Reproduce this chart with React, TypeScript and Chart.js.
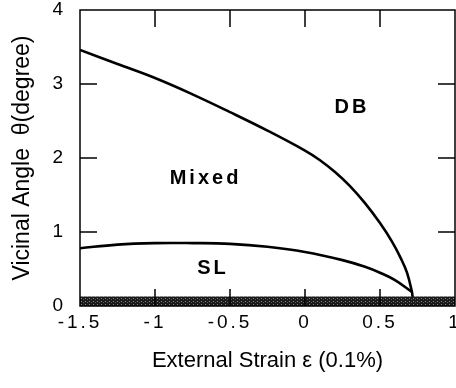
import React, { useEffect, useRef } from 'react';
import { Chart, registerables } from 'chart.js';

Chart.register(...registerables);

// ---- Data ----
const xTickValues = [-1.5, -1, -0.5, 0, 0.5, 1];
const xTickLabels = ['-1.5', '-1', '-0.5', '0', '0.5', '1'];
const yTickValues = [0, 1, 2, 3, 4];
const yTickLabels = ['0', '1', '2', '3', '4'];
const innerTickX = [-1, -0.5, 0, 0.5];
const innerTickY = [1, 2, 3];

// DB / Mixed boundary
const upperX = [-1.5, -1.25, -1.0, -0.75, -0.5, -0.25, 0, 0.1, 0.2, 0.3, 0.4, 0.5, 0.58, 0.64, 0.68, 0.713, 0.717];
const upperY = [3.46, 3.27, 3.08, 2.86, 2.62, 2.37, 2.1, 1.97, 1.81, 1.62, 1.39, 1.12, 0.87, 0.64, 0.45, 0.19, 0.12];

// Mixed / SL boundary
const lowerX = [-1.5, -1.25, -1.0, -0.75, -0.5, -0.25, 0, 0.25, 0.4, 0.5, 0.6, 0.713];
const lowerY = [0.78, 0.83, 0.85, 0.85, 0.84, 0.8, 0.73, 0.62, 0.53, 0.45, 0.35, 0.19];

// Hatched band along the bottom
const bandX = [-1.5, 1];
const bandY = [0.13, 0.13];

// Region labels
const regionLabels = ['DB', 'Mixed', 'SL'];
const regionX = [0.313, -0.663, -0.613];
const regionY = [2.68, 1.72, 0.51];

const FONT = '"Liberation Sans", Arial, Helvetica, sans-serif';

const framePlugin = {
  id: 'frame',
  afterDatasetsDraw(chart: any) {
    const { ctx, chartArea: a, scales } = chart;
    const xs = scales.x;
    const ys = scales.y;
    ctx.save();
    ctx.strokeStyle = '#000';
    ctx.lineWidth = 1.5;
    ctx.strokeRect(a.left, a.top, a.right - a.left, a.bottom - a.top);
    ctx.beginPath();
    const y0 = ys.getPixelForValue(0);
    for (const v of innerTickX) {
      const px = xs.getPixelForValue(v);
      ctx.moveTo(px, a.top);
      ctx.lineTo(px, a.top + 17);
      ctx.moveTo(px, y0);
      ctx.lineTo(px, y0 - 17);
    }
    for (const v of innerTickY) {
      const py = ys.getPixelForValue(v);
      ctx.moveTo(a.left, py);
      ctx.lineTo(a.left + 17, py);
      ctx.moveTo(a.right, py);
      ctx.lineTo(a.right - 17, py);
    }
    ctx.stroke();
    (ctx as any).letterSpacing = '3px';
    ctx.font = `bold 20px ${FONT}`;
    ctx.fillStyle = '#000';
    ctx.textAlign = 'center';
    ctx.textBaseline = 'middle';
    regionLabels.forEach((t, i) => {
      ctx.fillText(t, xs.getPixelForValue(regionX[i]), ys.getPixelForValue(regionY[i]));
    });
    ctx.restore();
    // tick labels (drawn after this, z=1) get letter spacing
    (ctx as any).letterSpacing = '3px';
  },
  afterDraw(chart: any) {
    (chart.ctx as any).letterSpacing = '0px';
  },
};

function makePattern(): CanvasPattern | string {
  const pc = document.createElement('canvas');
  pc.width = 4;
  pc.height = 3;
  const c = pc.getContext('2d');
  if (!c) return '#222';
  c.fillStyle = '#1a1a1a';
  c.fillRect(0, 0, 4, 3);
  c.fillStyle = '#8a8a8a';
  c.fillRect(1, 1, 1, 1);
  c.fillStyle = '#5a5a5a';
  c.fillRect(3, 2, 1, 1);
  const p = c.createPattern(pc, 'repeat');
  return p || '#222';
}

export default function App() {
  const canvasRef = useRef<HTMLCanvasElement | null>(null);

  useEffect(() => {
    document.body.style.margin = '0';
    const canvas = canvasRef.current;
    if (!canvas) return;
    const pattern = makePattern();

    const chart = new Chart(canvas, {
      type: 'line',
      data: {
        datasets: [
          {
            label: 'band',
            data: bandX.map((x, i) => ({ x, y: bandY[i] })),
            borderWidth: 0,
            borderColor: 'rgba(0,0,0,0)',
            backgroundColor: pattern as any,
            fill: 'origin',
            pointRadius: 0,
          },
          {
            label: 'upper',
            data: upperX.map((x, i) => ({ x, y: upperY[i] })),
            borderColor: '#000',
            borderWidth: 2.6,
            pointRadius: 0,
            fill: false,
            tension: 0.4,
          },
          {
            label: 'lower',
            data: lowerX.map((x, i) => ({ x, y: lowerY[i] })),
            borderColor: '#000',
            borderWidth: 2.6,
            pointRadius: 0,
            fill: false,
            tension: 0.4,
          },
        ],
      },
      options: {
        animation: false,
        responsive: false,
        layout: { padding: { top: 10, right: 1, left: 0, bottom: 0 } },
        plugins: {
          legend: { display: false },
          tooltip: { enabled: false },
        },
        scales: {
          x: {
            type: 'linear',
            min: -1.5,
            max: 1,
            afterBuildTicks: (s: any) => {
              s.ticks = xTickValues.map((v) => ({ value: v }));
            },
            afterFit: (s: any) => {
              s.height = 82;
              s.paddingLeft = 0;
              s.paddingRight = 0;
            },
            grid: { display: false, drawTicks: false },
            border: { display: false },
            ticks: {
              autoSkip: false,
              maxRotation: 0,
              padding: 5,
              z: 1,
              color: '#000',
              font: { family: FONT, size: 19 },
              callback: (v: any) => {
                const i = xTickValues.indexOf(Number(v));
                return i >= 0 ? xTickLabels[i] : '';
              },
            },
            title: {
              display: true,
              text: 'External Strain ε (0.1%)',
              color: '#000',
              font: { family: FONT, size: 22 },
              padding: { top: 0, bottom: 14 },
            },
          },
          y: {
            type: 'linear',
            min: 0,
            max: 4,
            afterBuildTicks: (s: any) => {
              s.ticks = yTickValues.map((v) => ({ value: v }));
            },
            afterFit: (s: any) => {
              s.width = 80;
              s.paddingTop = 0;
              s.paddingBottom = 0;
            },
            grid: { display: false, drawTicks: false },
            border: { display: false },
            ticks: {
              padding: 14,
              z: 1,
              color: '#000',
              font: { family: FONT, size: 19 },
              callback: (v: any) => {
                const i = yTickValues.indexOf(Number(v));
                return i >= 0 ? yTickLabels[i] : '';
              },
            },
            title: {
              display: true,
              text: 'Vicinal Angle  θ(degree)',
              color: '#000',
              font: { family: FONT, size: 23 },
              padding: { top: 9, bottom: 0 },
            },
          },
        },
      },
      plugins: [framePlugin],
    } as any);

    return () => {
      chart.destroy();
    };
  }, []);

  return (
    <div style={{ width: 456, height: 388, position: 'relative' }}>
      <canvas ref={canvasRef} width={456} height={388} style={{ display: 'block' }} />
    </div>
  );
}
